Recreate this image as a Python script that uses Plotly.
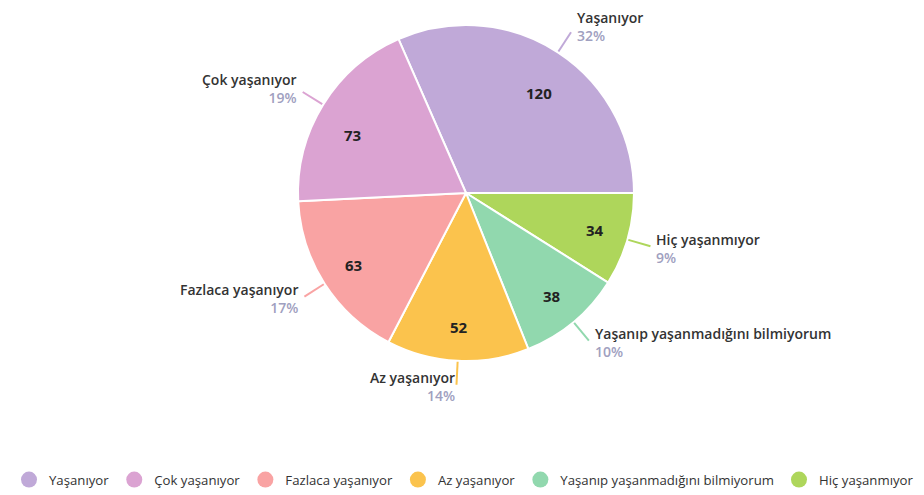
import math
import plotly.graph_objects as go

# data
labels = ["Yaşanıyor", "Hiç yaşanmıyor", "Yaşanıp yaşanmadığını bilmiyorum",
          "Az yaşanıyor", "Fazlaca yaşanıyor", "Çok yaşanıyor"]
values = [120, 34, 38, 52, 63, 73]
colors = ["#c0a9d8", "#aed65b", "#91d8ae", "#fbc34d", "#f9a3a3", "#dba3d2"]
legend_order = ["Yaşanıyor", "Çok yaşanıyor", "Fazlaca yaşanıyor",
                "Az yaşanıyor", "Yaşanıp yaşanmadığını bilmiyorum", "Hiç yaşanmıyor"]

W, H = 924, 495
OFF = 8                      # page body margin
cx, cy, R = 466 - OFF, 193 - OFF, 168   # pie centre / radius in px (figure coords)
FONT = "Open Sans"

total = sum(values)
rotation = 90 - 360 * values[0] / total   # first slice ends at 3 o'clock

fig = go.Figure()
fig.add_trace(go.Pie(
    labels=labels, values=values, sort=False, direction="clockwise",
    rotation=rotation, textinfo="none", hoverinfo="label+value+percent",
    marker=dict(colors=colors, line=dict(color="white", width=2)),
    domain=dict(x=[(cx - R) / W, (cx + R) / W], y=[(H - cy - R) / H, (H - cy + R) / H]),
    showlegend=False,
))

def px(x, y):
    return x / W, 1 - y / H

annotations, shapes = [], []
ang = rotation
for lab, val, col in zip(labels, values, colors):
    span = 360 * val / total
    mid = math.radians(ang + span / 2)
    ang += span
    s, c = math.sin(mid), math.cos(mid)

    # value inside the slice
    vx, vy = px(cx + 134 * s, cy - 134 * c)
    annotations.append(dict(x=vx, y=vy, xref="paper", yref="paper", showarrow=False,
                            text="<b>%d</b>" % val,
                            font=dict(family=FONT, size=15, color="#222")))

    # leader line
    x0, y0 = cx + (R + 1) * s, cy - (R + 1) * c
    x1, y1 = cx + (R + 24) * s, cy - (R + 24) * c
    a0, b0 = px(x0, y0)
    a1, b1 = px(x1, y1)
    shapes.append(dict(type="line", xref="paper", yref="paper", x0=a0, y0=b0, x1=a1, y1=b1,
                       line=dict(color=col, width=2)))

    # outside label
    right = s >= 0
    lx = x1 + (5 if right else -5) * (abs(s) > 0.2)
    ly = y1 - 7 * c if c > 0 else y1 + 2
    tx, ty = px(lx, ly)
    pct = round(100 * val / total)
    annotations.append(dict(
        x=tx, y=ty, xref="paper", yref="paper", showarrow=False,
        xanchor="left" if right else "right", yanchor="middle",
        align="left" if right else "right", borderpad=0,
        text="%s<br><span style='color:#a0a0c0'>%d%%</span>" % (lab, pct),
        font=dict(family=FONT, size=14, color="#333", weight=600),
    ))

# legend entries with round markers
for name in legend_order:
    col = colors[labels.index(name)]
    fig.add_trace(go.Scatter(x=[None], y=[None], mode="markers", name=name,
                             marker=dict(color=col, size=16, symbol="circle")))

fig.update_layout(
    width=W, height=H,
    margin=dict(l=0, r=0, t=0, b=0),
    paper_bgcolor="white", plot_bgcolor="white",
    font=dict(family=FONT, size=13, color="#333"),
    xaxis=dict(visible=False), yaxis=dict(visible=False),
    annotations=annotations, shapes=shapes,
    legend=dict(orientation="h", x=(464 - OFF) / W, xanchor="center",
                y=1 - (480 - OFF) / H, yanchor="middle",
                font=dict(family=FONT, size=13.2, color="#333"), itemclick=False),
)

fig.write_html("out.html")
